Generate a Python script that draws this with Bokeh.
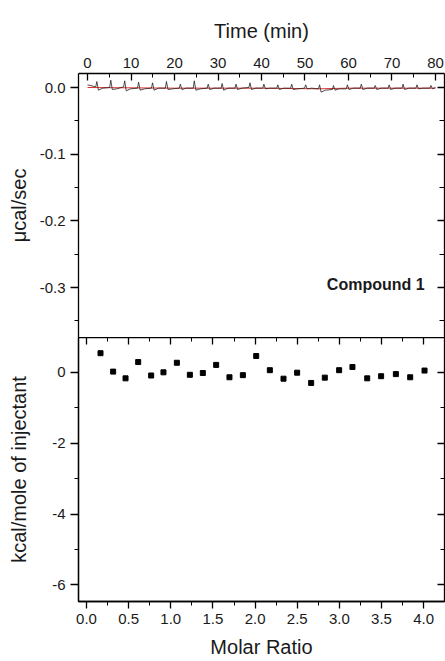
from bokeh.plotting import figure
from bokeh.layouts import column
from bokeh.models import LinearAxis, FixedTicker, NumeralTickFormatter, Range1d, Label
from bokeh.embed import file_html
from bokeh.resources import INLINE

# ---------------- data ----------------
time_ticks = [0, 10, 20, 30, 40, 50, 60, 70, 80]
time_minor = [5, 15, 25, 35, 45, 55, 65, 75]
ucal_ticks = [-0.3, -0.2, -0.1, 0.0]
ucal_minor = [-0.35, -0.25, -0.15, -0.05]
ratio_ticks = [0.0, 0.5, 1.0, 1.5, 2.0, 2.5, 3.0, 3.5, 4.0]
ratio_minor = [0.25, 0.75, 1.25, 1.75, 2.25, 2.75, 3.25, 3.75]
kcal_ticks = [-6, -4, -2, 0]
kcal_minor = [-5, -3, -1]

trace_t = [0.0, 1.9, 2.15, 2.5, 3.5,
           5.1, 5.35, 5.7, 6.7,
           8.3, 8.55, 8.9, 9.9,
           11.5, 11.75, 12.1, 13.1,
           14.7, 14.95, 15.3, 16.3,
           17.9, 18.15, 18.5, 19.5,
           21.1, 21.35, 21.7, 22.7,
           24.3, 24.55, 24.9, 25.9,
           27.5, 27.75, 28.1, 29.1,
           30.7, 30.95, 31.3, 32.3,
           33.9, 34.15, 34.5, 35.5,
           37.1, 37.35, 37.7, 38.7,
           40.3, 40.55, 40.9, 41.9,
           43.5, 43.75, 44.1, 45.1,
           46.7, 46.95, 47.3, 48.3,
           49.9, 50.15, 50.5, 51.5,
           53.1, 53.35, 53.7, 54.7,
           56.3, 56.55, 56.9, 57.9,
           59.5, 59.75, 60.1, 61.1,
           62.7, 62.95, 63.3, 64.3,
           65.9, 66.15, 66.5, 67.5,
           69.1, 69.35, 69.7, 70.7,
           72.3, 72.55, 72.9, 73.9,
           75.5, 75.75, 76.1, 77.1,
           78.7, 78.95, 79.3, 80.0]
trace_v = [0.004, 0.001, 0.009, -0.004, -0.001,
           0.000, 0.011, -0.003, -0.002,
           0.001, 0.010, -0.005, -0.002,
           -0.001, 0.008, -0.004, -0.002,
           -0.001, 0.007, -0.004, -0.001,
           -0.001, 0.009, -0.003, -0.002,
           -0.001, 0.005, -0.003, -0.001,
           -0.001, 0.010, -0.004, -0.002,
           -0.001, 0.005, -0.003, -0.001,
           -0.001, 0.006, -0.004, -0.001,
           -0.001, 0.005, -0.003, -0.001,
           0.000, 0.007, -0.003, -0.001,
           -0.001, 0.005, -0.002, -0.001,
           -0.001, 0.004, -0.003, -0.001,
           -0.001, 0.005, -0.003, -0.002,
           -0.001, 0.004, -0.002, -0.001,
           -0.002, 0.004, -0.007, -0.004,
           -0.003, 0.003, -0.004, -0.002,
           -0.002, 0.004, -0.003, -0.001,
           -0.001, 0.005, -0.003, -0.001,
           -0.001, 0.003, -0.003, -0.001,
           -0.001, 0.004, -0.003, -0.001,
           -0.001, 0.005, -0.003, -0.001,
           -0.001, 0.004, -0.002, -0.001,
           -0.001, 0.003, -0.002, 0.000]

base_t = [0.0, 20.0, 40.0, 53.0, 60.0, 80.0]
base_v = [0.000, -0.001, -0.001, -0.002, -0.001, -0.001]

ratio = [0.166, 0.316, 0.463, 0.613, 0.767, 0.913, 1.072, 1.226, 1.380,
         1.538, 1.696, 1.855, 2.013, 2.175, 2.337, 2.499, 2.665, 2.827,
         2.997, 3.155, 3.330, 3.495, 3.670, 3.840, 4.010]
kcal = [0.54, 0.02, -0.17, 0.29, -0.09, 0.00, 0.27, -0.07, -0.02,
        0.21, -0.14, -0.08, 0.46, 0.06, -0.18, -0.01, -0.30, -0.15,
        0.06, 0.15, -0.17, -0.11, -0.05, -0.14, 0.05]

FONT = "Liberation Sans"
TXT = "#1a1a1a"


def style_axis(ax, ticks, minor, fmt, label=None, tin=0, tout=0, mtin=0, mtout=0,
               show_labels=True, standoff=5, label_standoff=5, line=True):
    ax.ticker = FixedTicker(ticks=ticks, minor_ticks=minor)
    ax.formatter = NumeralTickFormatter(format=fmt)
    ax.axis_line_color = "black" if line else None
    ax.axis_line_width = 1.3
    ax.major_tick_line_color = "black"
    ax.minor_tick_line_color = "black"
    ax.major_tick_line_width = 1.3
    ax.minor_tick_line_width = 1.0
    ax.major_tick_in = tin
    ax.major_tick_out = tout
    ax.minor_tick_in = mtin
    ax.minor_tick_out = mtout
    ax.major_label_standoff = standoff
    ax.major_label_text_font = FONT
    if show_labels:
        ax.major_label_text_font_size = "15px"
        ax.major_label_text_color = TXT
    else:
        ax.major_label_text_font_size = "1px"
        ax.major_label_text_color = None
    if label:
        ax.axis_label = label
        ax.axis_label_text_font = FONT
        ax.axis_label_text_font_size = "20px"
        ax.axis_label_text_font_style = "normal"
        ax.axis_label_text_color = TXT
        ax.axis_label_standoff = label_standoff


# ---------------- top panel ----------------
p1 = figure(width=445, height=337, output_backend="svg", toolbar_location=None,
            x_range=Range1d(-2.07, 82.07), y_range=Range1d(-0.375, 0.021),
            x_axis_location="above",
            min_border_left=78, min_border_right=1, min_border_top=73, min_border_bottom=0)
p1.grid.visible = False
p1.outline_line_color = None
p1.background_fill_color = "white"
p1.border_fill_color = "white"

style_axis(p1.xaxis[0], time_ticks, time_minor, "0", label="Time (min)",
           tin=7, mtin=4, standoff=6, label_standoff=13)
style_axis(p1.yaxis[0], ucal_ticks, ucal_minor, "0.0", label="\u03bccal/sec",
           tout=8, mtout=4, standoff=5, label_standoff=7)
r1 = LinearAxis()
style_axis(r1, ucal_ticks, ucal_minor, "0.0", tin=7, mtin=5, show_labels=False, standoff=0)
p1.add_layout(r1, "right")

p1.line(base_t, base_v, line_color="#e03030", line_width=1.0)
p1.line(trace_t, trace_v, line_color="#222222", line_width=0.8)

p1.add_layout(Label(x=77.5, y=-0.295, text="Compound 1", text_align="right",
                    text_baseline="middle", text_font=FONT, text_font_size="16px",
                    text_font_style="bold", text_color=TXT))

# ---------------- bottom panel ----------------
p2 = figure(width=445, height=324, output_backend="svg", toolbar_location=None,
            x_range=Range1d(-0.095, 4.247), y_range=Range1d(-6.47, 0.983),
            min_border_left=78, min_border_right=1, min_border_top=0, min_border_bottom=60)
p2.grid.visible = False
p2.outline_line_color = "black"
p2.outline_line_width = 1.3
p2.background_fill_color = "white"
p2.border_fill_color = "white"

style_axis(p2.xaxis[0], ratio_ticks, ratio_minor, "0.0", label="Molar Ratio",
           tout=7, mtout=4, standoff=5, label_standoff=9)
style_axis(p2.yaxis[0], kcal_ticks, kcal_minor, "0", label="kcal/mole of injectant",
           tout=8, mtout=4, standoff=5, label_standoff=19)
t2 = LinearAxis()
style_axis(t2, ratio_ticks, ratio_minor, "0.0", tin=7, mtin=4, show_labels=False,
           standoff=0, line=False)
p2.add_layout(t2, "above")
r2 = LinearAxis()
style_axis(r2, kcal_ticks, kcal_minor, "0", tin=7, mtin=4, show_labels=False,
           standoff=0, line=False)
p2.add_layout(r2, "right")

p2.scatter(ratio, kcal, marker="square", size=5, fill_color="black", line_color="black")

layout = column(p1, p2, spacing=0)
open("out.html", "w").write(file_html(layout, INLINE))
